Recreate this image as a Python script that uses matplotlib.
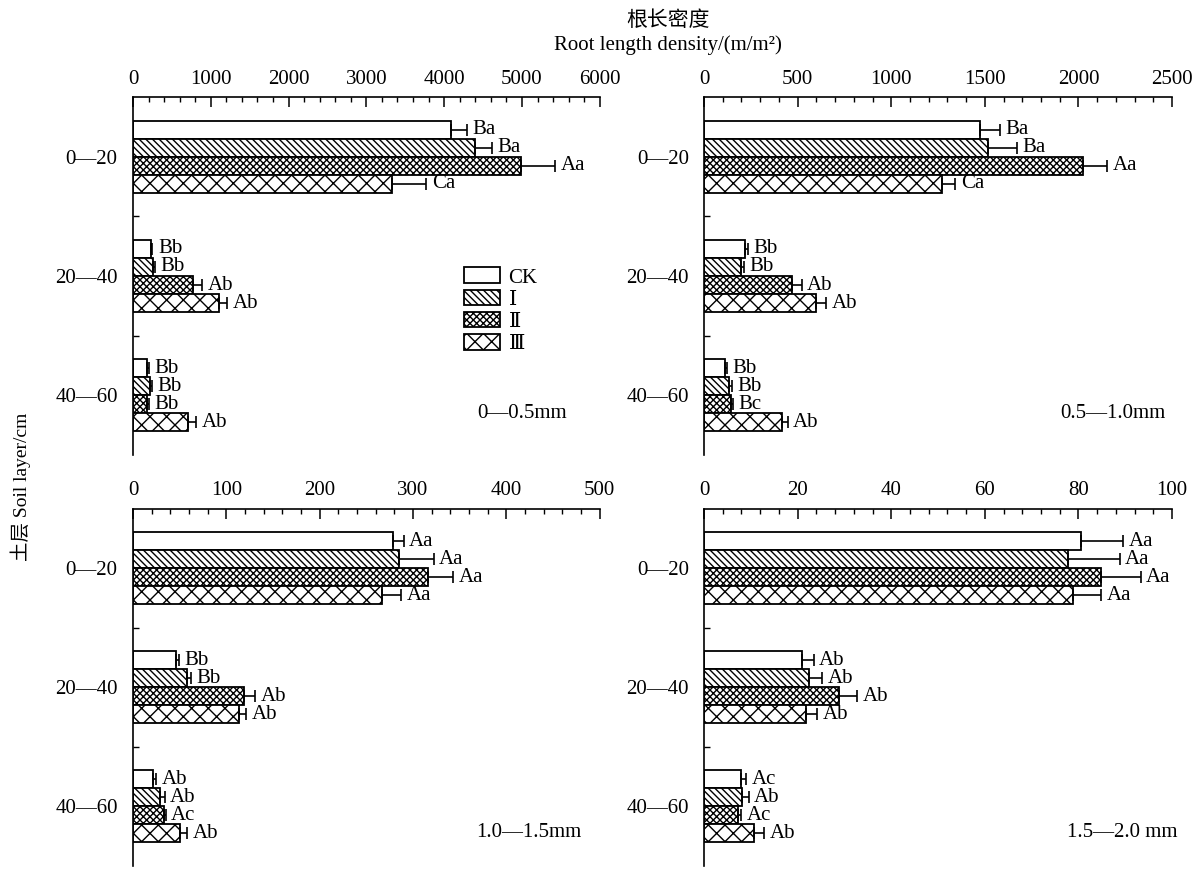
import numpy as np
import matplotlib
matplotlib.use('Agg')
import matplotlib.pyplot as plt
from matplotlib.ticker import MultipleLocator, FixedLocator

plt.rcParams['font.family'] = ['Liberation Serif', 'DejaVu Serif', 'Noto Sans CJK SC']
plt.rcParams['hatch.linewidth'] = 1.0
plt.rcParams['hatch.color'] = 'black'

layers = ['0—20', '20—40', '40—60']
treatments = ['CK', 'Ⅰ', 'Ⅱ', 'Ⅲ']
hatches = ['', '\\' * 5, 'xxxxx', 'xx']

# rows = soil layer, columns = CK, I, II, III
rld_0_05 = [[4090, 4390, 4990, 3330], [230, 260, 770, 1105], [185, 218, 185, 710]]
err_0_05 = [[200, 220, 440, 440], [20, 22, 115, 110], [25, 26, 20, 100]]
sig_0_05 = [['Ba', 'Ba', 'Aa', 'Ca'], ['Bb', 'Bb', 'Ab', 'Ab'], ['Bb', 'Bb', 'Bb', 'Ab']]

rld_05_10 = [[1476, 1515, 2022, 1272], [219, 198, 470, 599], [113, 133, 143, 415]]
err_05_10 = [[103, 156, 132, 70], [16, 14, 51, 55], [10, 16, 12, 31]]
sig_05_10 = [['Ba', 'Ba', 'Aa', 'Ca'], ['Bb', 'Bb', 'Ab', 'Ab'], ['Bb', 'Bb', 'Bc', 'Ab']]

rld_10_15 = [[279, 285, 316, 267], [46, 58, 119, 114], [22, 29, 33, 50]]
err_10_15 = [[11, 37, 27, 20], [3, 4, 12, 7], [3, 5, 2, 8]]
sig_10_15 = [['Aa', 'Aa', 'Aa', 'Aa'], ['Bb', 'Bb', 'Ab', 'Ab'], ['Ab', 'Ab', 'Ac', 'Ab']]

rld_15_20 = [[80.6, 77.8, 84.8, 78.8], [21.0, 22.4, 28.9, 21.8], [8.0, 8.2, 7.2, 10.6]]
err_15_20 = [[9.0, 11.0, 8.5, 6.0], [2.4, 2.9, 3.8, 2.3], [1.0, 1.3, 0.8, 2.2]]
sig_15_20 = [['Aa', 'Aa', 'Aa', 'Aa'], ['Ab', 'Ab', 'Ab', 'Ab'], ['Ac', 'Ab', 'Ac', 'Ab']]

panels = [
    (rld_0_05, err_0_05, sig_0_05, 6000, 1000, '0—0.5mm'),
    (rld_05_10, err_05_10, sig_05_10, 2500, 500, '0.5—1.0mm'),
    (rld_10_15, err_10_15, sig_10_15, 500, 100, '1.0—1.5mm'),
    (rld_15_20, err_15_20, sig_15_20, 100, 20, '1.5—2.0 mm'),
]
note_pos = [(0.833, 0.117), (0.874, 0.117), (0.848, 0.095), (0.893, 0.095)]
rects = [
    [0.1108, 0.4764, 0.389, 0.412],
    [0.5867, 0.4764, 0.390, 0.412],
    [0.1108, 0.0035, 0.389, 0.411],
    [0.5867, 0.0035, 0.390, 0.411],
]

fs = 15
h = 0.151
offsets = (np.arange(4) - 1.5) * h
ypos = np.arange(len(layers))

fig = plt.figure(figsize=(12, 8.69), dpi=100)

for k, (vals, errs, sigs, xmax, step, note) in enumerate(panels):
    ax = fig.add_axes(rects[k])
    vals = np.array(vals)
    errs = np.array(errs)
    for j in range(4):
        y = ypos + offsets[j]
        ax.barh(y, vals[:, j], height=h, color='white', edgecolor='black',
                linewidth=1.3, hatch=hatches[j], label=treatments[j], zorder=2)
        ax.errorbar(vals[:, j], y, xerr=[np.zeros(3), errs[:, j]], fmt='none',
                    ecolor='black', elinewidth=1.2, capsize=4, capthick=1.2, zorder=3)
        for i in range(3):
            ax.annotate(sigs[i][j], (vals[i, j] + errs[i, j], y[i]),
                        xytext=(4, 0), textcoords='offset points',
                        ha='left', va='center', fontsize=fs)

    ax.set_xlim(0, xmax)
    ax.set_ylim(2.5, -0.5)
    ax.xaxis.tick_top()
    ax.xaxis.set_major_locator(MultipleLocator(step))
    ax.xaxis.set_minor_locator(MultipleLocator(step / 5))
    ax.tick_params(axis='x', which='major', direction='in', length=7, width=1.1,
                   labelsize=fs, pad=6)
    ax.tick_params(axis='x', which='minor', direction='in', length=3.5, width=1.0)
    ax.set_yticks(ypos)
    ax.set_yticklabels(layers)
    ax.yaxis.set_minor_locator(FixedLocator([0.5, 1.5]))
    ax.tick_params(axis='y', which='major', length=0, labelsize=fs, pad=11)
    ax.tick_params(axis='y', which='minor', direction='in', length=4, width=1.0)
    for side in ['right', 'bottom']:
        ax.spines[side].set_visible(False)
    for side in ['left', 'top']:
        ax.spines[side].set_linewidth(1.2)

    ax.text(note_pos[k][0], note_pos[k][1], note, transform=ax.transAxes,
            ha='center', va='center', fontsize=fs)

    if k == 0:
        ax.legend(loc='upper left', bbox_to_anchor=(0.686, 0.553), frameon=False,
                  fontsize=fs, handlelength=1.75, handleheight=0.78,
                  labelspacing=0.1, handletextpad=0.4, borderpad=0)

fig.text(0.557, 0.976, '根长密度', ha='center', va='center', fontsize=fs)
fig.text(0.557, 0.948, 'Root length density/(m/m²)', ha='center', va='center', fontsize=fs)
fig.text(0.017, 0.44, '土层 Soil layer/cm', ha='center', va='center',
         rotation=90, fontsize=14)

fig.savefig('out.png', dpi=100)
